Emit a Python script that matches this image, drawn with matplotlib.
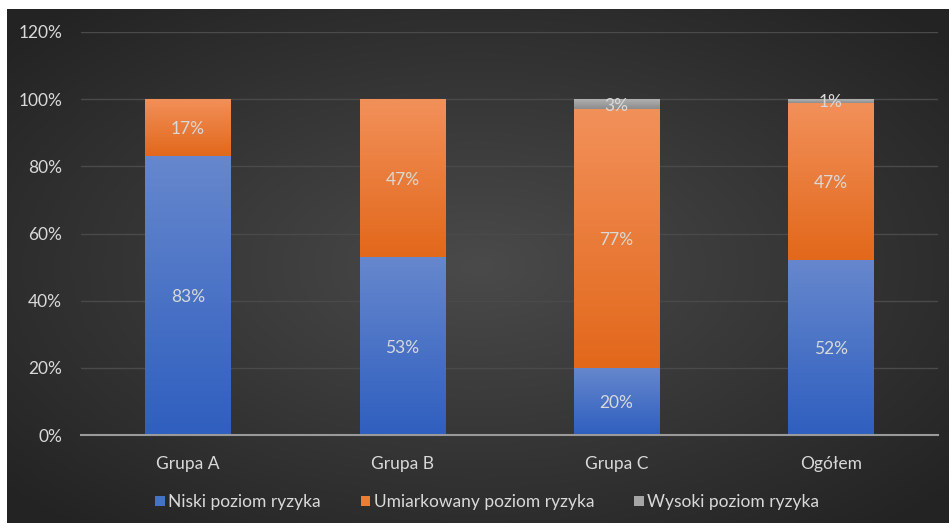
import numpy as np
import matplotlib.pyplot as plt
from matplotlib.colors import LinearSegmentedColormap
from matplotlib.patches import Patch

plt.rcParams['font.family'] = ['Lato', 'DejaVu Sans']

groups = ['Grupa A', 'Grupa B', 'Grupa C', 'Ogółem']
niski = [83, 53, 20, 52]
umiarkowany = [17, 47, 77, 47]
wysoki = [0, 0, 3, 1]
series_names = ['Niski poziom ryzyka', 'Umiarkowany poziom ryzyka', 'Wysoki poziom ryzyka']

# (top, bottom) colours of the gradient fill
grads = [('#6687cd', '#2f5fbf'), ('#f2905a', '#e2681b'), ('#b4b4b4', '#8c8c8c')]
legend_cols = ['#4472c4', '#ed7d31', '#a5a5a5']
text_col = '#d9d9d9'

fig = plt.figure(figsize=(9.49, 5.23), dpi=100)
fig.patch.set_facecolor('white')

# dark radial background
bg = fig.add_axes([7 / 949, 0, 942 / 949, 1 - 9 / 523])
yy, xx = np.mgrid[-1:1:300j, -1:1:500j]
r = np.sqrt(xx**2 + yy**2)
bg_cmap = LinearSegmentedColormap.from_list('bg', ['#4a4a4a', '#232323'])
bg.imshow(r, cmap=bg_cmap, aspect='auto', extent=[0, 1, 0, 1], vmin=0, vmax=1.35)
bg.axis('off')

ax = fig.add_axes([81 / 949, 1 - 435 / 523, (938 - 81) / 949, (435 - 32) / 523])
ax.patch.set_alpha(0)

x = np.arange(len(groups))
width = 0.4
bottom = np.zeros(len(groups))
for vals, (ctop, cbot) in zip([niski, umiarkowany, wysoki], grads):
    vals = np.array(vals, dtype=float)
    bars = ax.bar(x, vals, width, bottom=bottom, color='none', zorder=3)
    cm = LinearSegmentedColormap.from_list('g', [cbot, ctop])
    for b, v, b0 in zip(bars, vals, bottom):
        if v <= 0:
            continue
        xl = b.get_x()
        im = ax.imshow(np.linspace(0, 1, 100).reshape(-1, 1), cmap=cm, origin='lower',
                       aspect='auto', extent=[xl, xl + width, b0, b0 + v], zorder=3)
        im.set_clip_path(b)
        ax.text(b.get_x() + width / 2, b0 + v / 2, f'{int(v)}%', ha='center',
                va='center_baseline', color=text_col, fontsize=12.5, zorder=5)
    bottom += vals

ax.set_xlim(-0.5, len(groups) - 0.5)
ax.set_ylim(0, 120)
ax.set_yticks(np.arange(0, 121, 20))
ax.set_yticklabels([f'{t}%' for t in range(0, 121, 20)])
ax.set_xticks(x)
ax.set_xticklabels(groups)
ax.tick_params(axis='both', length=0, colors=text_col, labelsize=12.5)
ax.tick_params(axis='x', pad=15)
ax.tick_params(axis='y', pad=13.5)
ax.grid(axis='y', color='#4a4a4a', linewidth=1, zorder=0)
for s in ['top', 'right', 'left']:
    ax.spines[s].set_visible(False)
ax.spines['bottom'].set_color('#9a9a9a')
ax.spines['bottom'].set_linewidth(1.5)
ax.spines['bottom'].set_zorder(4)

handles = [Patch(facecolor=c, edgecolor='none') for c in legend_cols]
fig.legend(handles, series_names, loc='center', bbox_to_anchor=(487 / 949, 1 - 502 / 523),
           ncol=3, frameon=False, fontsize=12.5, labelcolor=text_col,
           handlelength=0.55, handleheight=0.55, handletextpad=0.2, columnspacing=2.3)

fig.savefig('out.png', dpi=100, facecolor=fig.get_facecolor())
